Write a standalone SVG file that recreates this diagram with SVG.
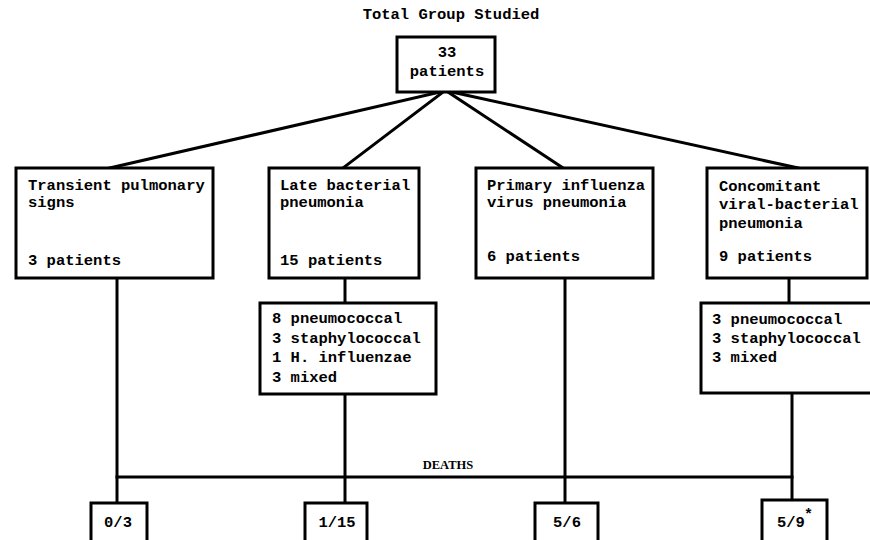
<svg xmlns="http://www.w3.org/2000/svg" width="870" height="540" viewBox="0 0 870 540">
<style>
.box{fill:#fff;stroke:#000;stroke-width:3}
.t{font-family:"Liberation Mono","Courier New",monospace;font-weight:bold;font-size:15.5px;fill:#000}
.c{text-anchor:middle}
.ln{stroke:#000;stroke-width:3;fill:none;stroke-linecap:square}
.dl{font-family:"Liberation Serif","Times New Roman",serif;font-weight:bold;font-size:12.5px;fill:#000}
</style>
<rect width="870" height="540" fill="#fff"/>
<g id="connectors">
<line class="ln" x1="440" y1="92" x2="110" y2="168"/>
<line class="ln" x1="443" y1="92" x2="343" y2="168"/>
<line class="ln" x1="448" y1="92" x2="563" y2="168"/>
<line class="ln" x1="452" y1="92" x2="798" y2="168"/>
<line class="ln" x1="117" y1="278" x2="117" y2="503"/>
<line class="ln" x1="345" y1="278" x2="345" y2="303"/>
<line class="ln" x1="345" y1="394" x2="345" y2="503"/>
<line class="ln" x1="565" y1="278" x2="565" y2="503"/>
<line class="ln" x1="789" y1="278" x2="789" y2="303"/>
<line class="ln" x1="792" y1="393" x2="792" y2="500"/>
<line class="ln" x1="117" y1="477" x2="792" y2="477"/>
<text class="dl" x="448" y="469" text-anchor="middle">DEATHS</text>
</g>
<g id="title">
<text class="t c" x="451" y="19">Total Group Studied</text>
</g>
<g id="total">
<rect class="box" x="397" y="37" width="98" height="55"/>
<text class="t c" x="447" y="57">33</text>
<text class="t c" x="447" y="76">patients</text>
</g>
<g id="transient">
<rect class="box" x="16" y="168" width="197" height="110"/>
<text class="t" x="28" y="190">Transient pulmonary</text>
<text class="t" x="28" y="207">signs</text>
<text class="t" x="28" y="265">3 patients</text>
</g>
<g id="late">
<rect class="box" x="269" y="168" width="150" height="110"/>
<text class="t" x="280" y="190">Late bacterial</text>
<text class="t" x="280" y="207">pneumonia</text>
<text class="t" x="280" y="265">15 patients</text>
</g>
<g id="primary">
<rect class="box" x="476" y="168" width="177" height="110"/>
<text class="t" x="487" y="190">Primary influenza</text>
<text class="t" x="487" y="207">virus pneumonia</text>
<text class="t" x="487" y="261">6 patients</text>
</g>
<g id="concomitant">
<rect class="box" x="707" y="168" width="160" height="110"/>
<text class="t" x="719" y="191">Concomitant</text>
<text class="t" x="719" y="209">viral-bacterial</text>
<text class="t" x="719" y="228">pneumonia</text>
<text class="t" x="719" y="261">9 patients</text>
</g>
<g id="late-organisms">
<rect class="box" x="260" y="303" width="176" height="91"/>
<text class="t" x="272" y="323">8 pneumococcal</text>
<text class="t" x="272" y="343">3 staphylococcal</text>
<text class="t" x="272" y="362">1 H. influenzae</text>
<text class="t" x="272" y="382">3 mixed</text>
</g>
<g id="concomitant-organisms">
<rect class="box" x="701" y="303" width="190" height="90"/>
<text class="t" x="712" y="324">3 pneumococcal</text>
<text class="t" x="712" y="343">3 staphylococcal</text>
<text class="t" x="712" y="362">3 mixed</text>
</g>
<g id="deaths-transient">
<rect class="box" x="91" y="503" width="56" height="45"/>
<text class="t c" x="118" y="527">0/3</text>
</g>
<g id="deaths-late">
<rect class="box" x="305" y="503" width="62" height="45"/>
<text class="t c" x="337" y="527">1/15</text>
</g>
<g id="deaths-primary">
<rect class="box" x="535" y="503" width="63" height="45"/>
<text class="t c" x="567" y="527">5/6</text>
</g>
<g id="deaths-concomitant">
<rect class="box" x="762" y="500" width="65" height="48"/>
<text class="t" x="777" y="527">5/9<tspan font-size="15" dx="-1" dy="-8">*</tspan></text>
</g>
</svg>
